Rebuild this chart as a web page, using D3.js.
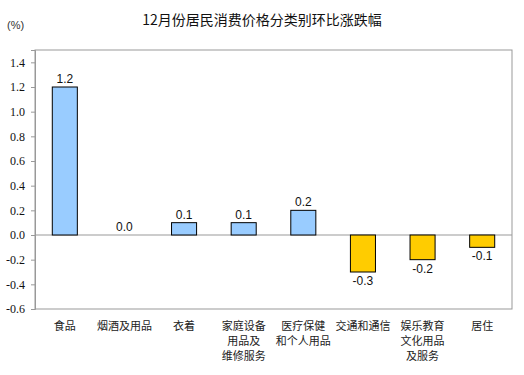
<!DOCTYPE html>
<html>
<head>
  <meta charset="utf-8">
  <script src="https://d3js.org/d3.v7.min.js"></script>
  <style>
    body { margin: 0; background: #fff; }
    svg { display: block; }
  </style>
</head>
<body>
  <svg id="chart" width="524" height="375"></svg>
  <script>
    // categories (multi-line labels) and month-on-month change (%)
    const categories = [
      ["食品"],
      ["烟酒及用品"],
      ["衣着"],
      ["家庭设备", "用品及", "维修服务"],
      ["医疗保健", "和个人用品"],
      ["交通和通信"],
      ["娱乐教育", "文化用品", "及服务"],
      ["居住"]
    ];
    const values = [1.2, 0.0, 0.1, 0.1, 0.2, -0.3, -0.2, -0.1];
    const yTicks = [-0.6, -0.4, -0.2, 0.0, 0.2, 0.4, 0.6, 0.8, 1.0, 1.2, 1.4];

    const svg = d3.select("#chart");
    const plotLeft = 35, plotRight = 512, plotTop = 50, plotBottom = 309;

    // plain hyphen for negatives, like the original
    const fmt = d => d.toFixed(1);

    const x = d3.scaleBand()
      .domain(d3.range(values.length))
      .range([plotLeft, plotRight])
      .paddingInner(0.58)
      .paddingOuter(0.29);

    const y = d3.scaleLinear().domain([-0.6, 1.5]).range([plotBottom, plotTop]);

    // title
    svg.append("text")
      .attr("x", 262).attr("y", 25)
      .attr("text-anchor", "middle")
      .style("font-family", "'Noto Sans CJK SC', sans-serif")
      .style("font-size", "14px")
      .attr("fill", "#111")
      .text("12月份居民消费价格分类别环比涨跌幅");

    svg.append("text")
      .attr("x", 7).attr("y", 29)
      .style("font-family", "'Liberation Sans', sans-serif")
      .style("font-size", "11px")
      .attr("fill", "#333")
      .text("(%)");

    // frame
    svg.append("rect")
      .attr("x", plotLeft).attr("y", plotTop)
      .attr("width", plotRight - plotLeft).attr("height", plotBottom - plotTop)
      .attr("fill", "none").attr("stroke", "#999").attr("stroke-width", 1);

    // y axis
    const yAxis = svg.append("g")
      .attr("transform", `translate(${plotLeft},0)`)
      .attr("font-family", "'Liberation Serif', serif")
      .attr("font-size", 12)
      .call(d3.axisLeft(y).tickValues(yTicks).tickSize(4).tickPadding(6)
        .tickFormat(fmt));
    yAxis.attr("font-family", "'Liberation Serif', serif").attr("font-size", 12);
    yAxis.select(".domain").attr("stroke", "#999");
    yAxis.selectAll(".tick line").attr("stroke", "#999");
    yAxis.selectAll("text").attr("fill", "#111");

    // zero line
    svg.append("line")
      .attr("x1", plotLeft).attr("x2", plotRight)
      .attr("y1", y(0)).attr("y2", y(0))
      .attr("stroke", "#999");

    // bars
    svg.selectAll(".bar")
      .data(values)
      .enter()
      .append("rect")
      .attr("class", "bar")
      .attr("x", (d, i) => x(i))
      .attr("width", x.bandwidth())
      .attr("y", d => y(Math.max(0, d)))
      .attr("height", d => Math.abs(y(d) - y(0)))
      .attr("fill", d => d >= 0 ? "#99ccff" : "#ffcc00")
      .attr("stroke", d => d === 0 ? "none" : "#000")
      .attr("stroke-width", 1);

    // value labels
    svg.selectAll(".val")
      .data(values)
      .enter()
      .append("text")
      .attr("class", "val")
      .attr("x", (d, i) => x(i) + x.bandwidth() / 2)
      .attr("y", d => d >= 0 ? y(d) - 4 : y(d) + 13)
      .attr("text-anchor", "middle")
      .style("font-family", "'Liberation Sans', sans-serif")
      .style("font-size", "12px")
      .attr("fill", "#111")
      .text(fmt);

    // category labels
    const catG = svg.selectAll(".cat")
      .data(categories)
      .enter()
      .append("text")
      .attr("class", "cat")
      .attr("text-anchor", "middle")
      .style("font-family", "'Noto Sans CJK SC', sans-serif")
      .style("font-size", "11px")
      .attr("fill", "#222");
    catG.selectAll("tspan")
      .data((d, i) => d.map(s => ({ s, i })))
      .enter()
      .append("tspan")
      .attr("x", d => x(d.i) + x.bandwidth() / 2)
      .attr("y", (d, j) => 330 + j * 15)
      .text(d => d.s);
  </script>
</body>
</html>
